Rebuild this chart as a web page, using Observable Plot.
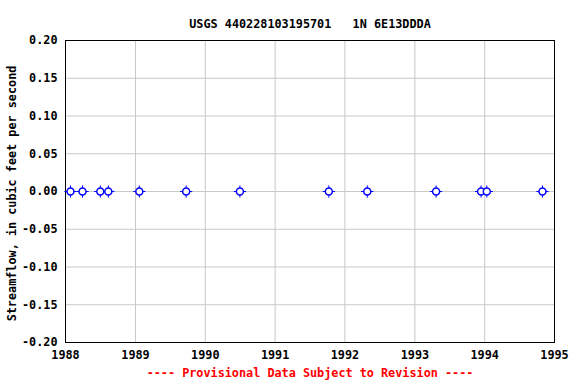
<!DOCTYPE html>
<html>
<head>
<meta charset="utf-8">
<script src="https://cdn.jsdelivr.net/npm/d3@7"></script>
<script src="https://cdn.jsdelivr.net/npm/@observablehq/plot@0.6"></script>
<style>
  html, body { margin: 0; padding: 0; background: #fff; }
</style>
</head>
<body>
<div id="chart"></div>
<script>
const titleText = "USGS 440228103195701   1N 6E13DDDA";
const yLabel = "Streamflow, in cubic feet per second";
const captionText = "---- Provisional Data Subject to Revision ----";

const dates = ["1988-01-27","1988-03-30","1988-07-01","1988-08-12","1989-01-21","1989-09-23","1990-07-01","1991-10-09","1992-04-27","1993-04-22","1993-12-13","1994-01-12","1994-10-30"];
const values = [0,0,0,0,0,0,0,0,0,0,0,0,0];
const yTicks = [-0.20,-0.15,-0.10,-0.05,0.00,0.05,0.10,0.15,0.20];
const xYears = ["1988","1989","1990","1991","1992","1993","1994","1995"];

const data = dates.map((d, i) => ({date: new Date(d + "T00:00:00Z"), value: values[i]}));
const xTickDates = xYears.map(y => new Date(y + "-01-01T00:00:00Z"));

const font = "'DejaVu Sans Mono', monospace";

const chart = Plot.plot({
  width: 576,
  height: 384,
  marginLeft: 65,
  marginRight: 22,
  marginTop: 40,
  marginBottom: 42,
  style: {fontFamily: font, fontSize: "11.8px", fontWeight: "bold", color: "#000", background: "#fff"},
  x: {type: "utc", domain: [xTickDates[0], xTickDates[xTickDates.length - 1]]},
  y: {domain: [-0.2, 0.2]},
  marks: [
    Plot.gridX(xTickDates, {stroke: "#c8c8c8", strokeOpacity: 1, strokeWidth: 1}),
    Plot.gridY(yTicks, {stroke: "#c8c8c8", strokeOpacity: 1, strokeWidth: 1}),
    Plot.axisX(xTickDates, {tickSize: 0, tickPadding: 8, tickFormat: d => d3.utcFormat("%Y")(d), label: null, fontWeight: "bold", fontSize: 11.8}),
    Plot.axisY(yTicks, {tickSize: 0, tickPadding: 8, tickFormat: d => d.toFixed(2), label: null, fontWeight: "bold", fontSize: 11.8}),
    Plot.frame({stroke: "#000", strokeWidth: 1}),
    Plot.dot(data, {x: "date", y: "value", symbol: "plus", r: 4.0, stroke: "#0000ff", strokeWidth: 1}),
    Plot.dot(data, {x: "date", y: "value", r: 3.5, stroke: "#0000ff", fill: "#fff", strokeWidth: 1.5}),
    Plot.text([titleText], {frameAnchor: "top", dy: -21, fontSize: 11.8, fontWeight: "bold", fill: "#000"}),
    Plot.text([yLabel], {frameAnchor: "left", dx: -53, dy: 2, rotate: -90, textAnchor: "middle", fontSize: 11.8, fontWeight: "bold", fill: "#000"}),
    Plot.text([captionText], {frameAnchor: "bottom", dy: 34, fontSize: 11.8, fontWeight: "bold", fill: "#ff0000"})
  ]
});
document.getElementById("chart").appendChild(chart);
</script>
</body>
</html>
